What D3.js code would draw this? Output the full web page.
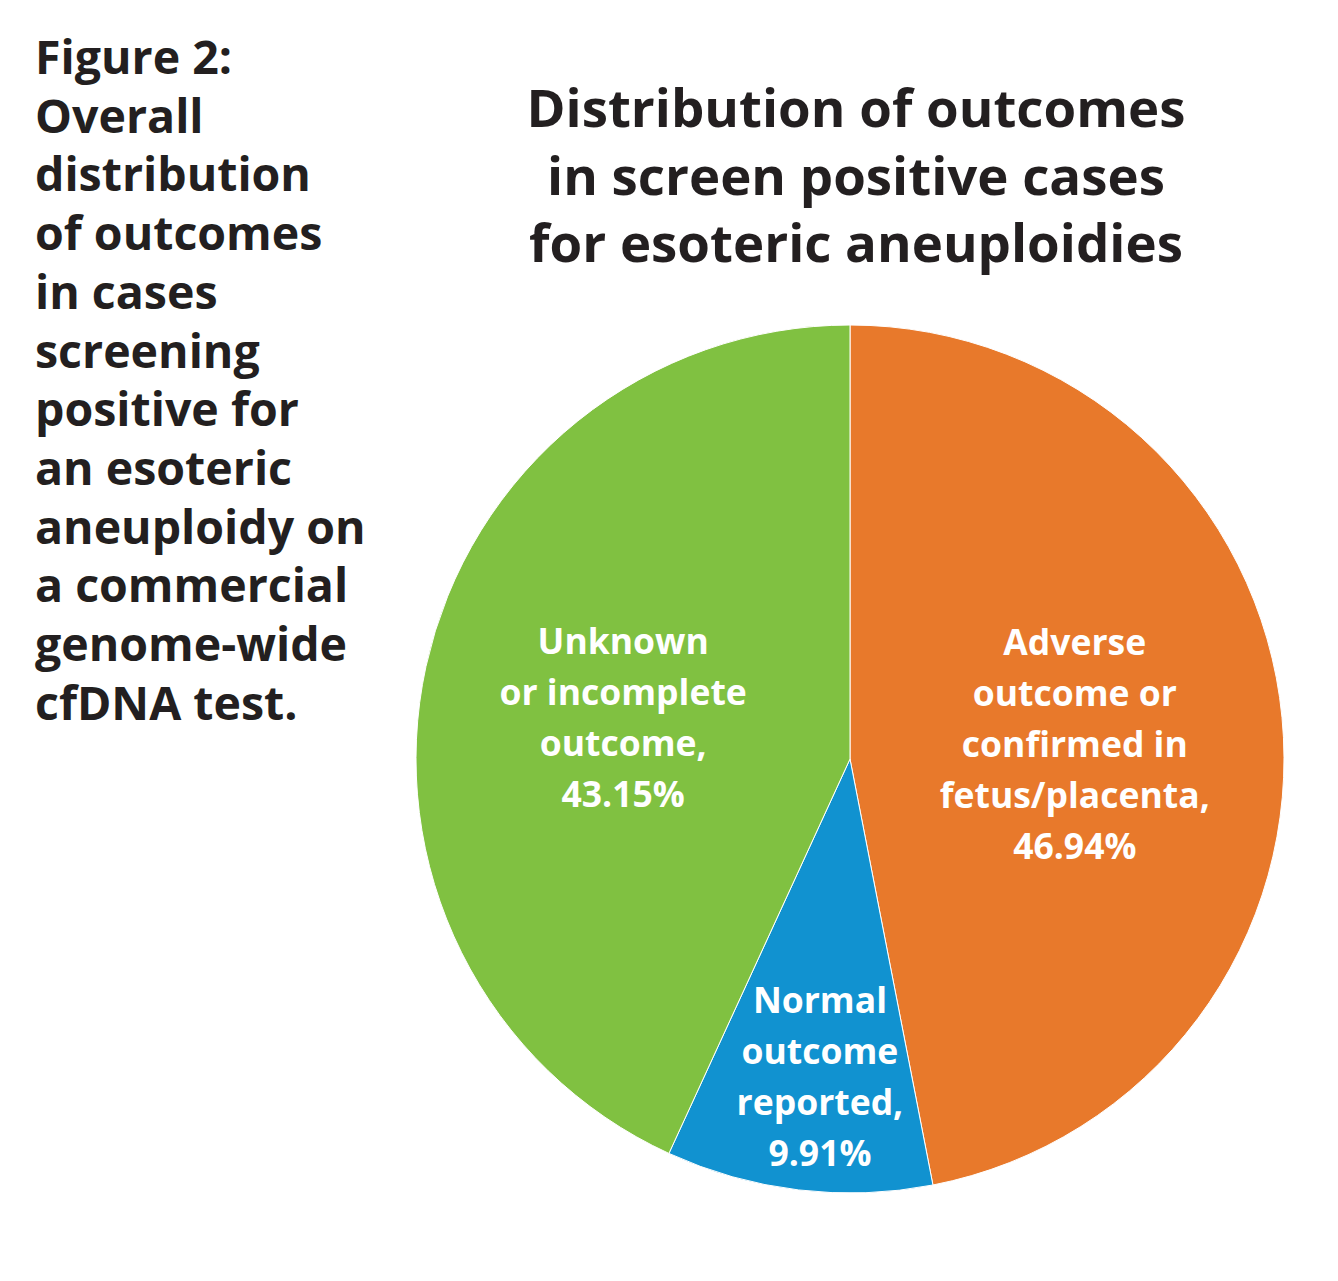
<!DOCTYPE html>
<html><head><meta charset="utf-8">
<script src="https://cdn.jsdelivr.net/npm/d3@7"></script>
<style>
html,body{margin:0;padding:0;background:#fff;}
svg{display:block;}
</style></head>
<body>
<svg id="chart" width="1338" height="1281"></svg>
<script>
const categories = ["Adverse outcome or confirmed in fetus/placenta", "Normal outcome reported", "Unknown or incomplete outcome"];
const values = [46.94, 9.91, 43.15];
const colors = ["#E8792B", "#1192D0", "#80C141"];
const labelLines = [
  ["Adverse", "outcome or", "confirmed in", "fetus/placenta,", "46.94%"],
  ["Normal", "outcome", "reported,", "9.91%"],
  ["Unknown", "or incomplete", "outcome,", "43.15%"]
];
const titleLines = ["Distribution of outcomes", "in screen positive cases", "for esoteric aneuploidies"];
const captionLines = ["Figure 2:", "Overall", "distribution", "of outcomes", "in cases", "screening", "positive for", "an esoteric", "aneuploidy on", "a commercial", "genome-wide", "cfDNA test."];

const svg = d3.select("#chart");
const font = "'Open Sans', 'Noto Sans', sans-serif";

// caption
svg.append("g").selectAll("text").data(captionLines).join("text")
  .attr("x", 35).attr("y", (d,i) => 74 + i*58.7)
  .attr("font-family", font).attr("font-weight", 700).attr("font-size", 46.5)
  .attr("fill", "#231f20").text(d => d);

// title
svg.append("g").selectAll("text").data(titleLines).join("text")
  .attr("x", 856).attr("y", (d,i) => 127 + i*67.5).attr("text-anchor", "middle")
  .attr("font-family", font).attr("font-weight", 700).attr("font-size", 52.8)
  .attr("fill", "#231f20").text(d => d);

const cx = 850, cy = 759, r = 434;
const pie = d3.pie().sort(null).value(d => d)(values);
const arc = d3.arc().innerRadius(0).outerRadius(r);
const g = svg.append("g").attr("transform", `translate(${cx},${cy})`);
g.selectAll("path").data(pie).join("path")
  .attr("d", arc).attr("fill", (d,i) => colors[i])
  .attr("stroke", "#fff").attr("stroke-width", 1);

// label placement: [radius fraction, angle fraction within slice]
const labelPlace = [[0.519, 0.511], [0.737, 0.46], [0.531, 0.486]];
const lineH = 51;
pie.forEach((p, i) => {
  const [rf, af] = labelPlace[i];
  const a = p.startAngle + (p.endAngle - p.startAngle) * af;
  const lx = Math.sin(a) * r * rf, ly = -Math.cos(a) * r * rf;
  const lines = labelLines[i];
  const t = g.append("text").attr("text-anchor", "middle")
    .attr("font-family", font).attr("font-weight", 700).attr("font-size", 35.5)
    .attr("fill", "#fff");
  lines.forEach((s, j) => {
    t.append("tspan").attr("x", lx).attr("y", ly + (j - (lines.length-1)/2)*lineH + 12.5).text(s);
  });
});
</script>
</body></html>
